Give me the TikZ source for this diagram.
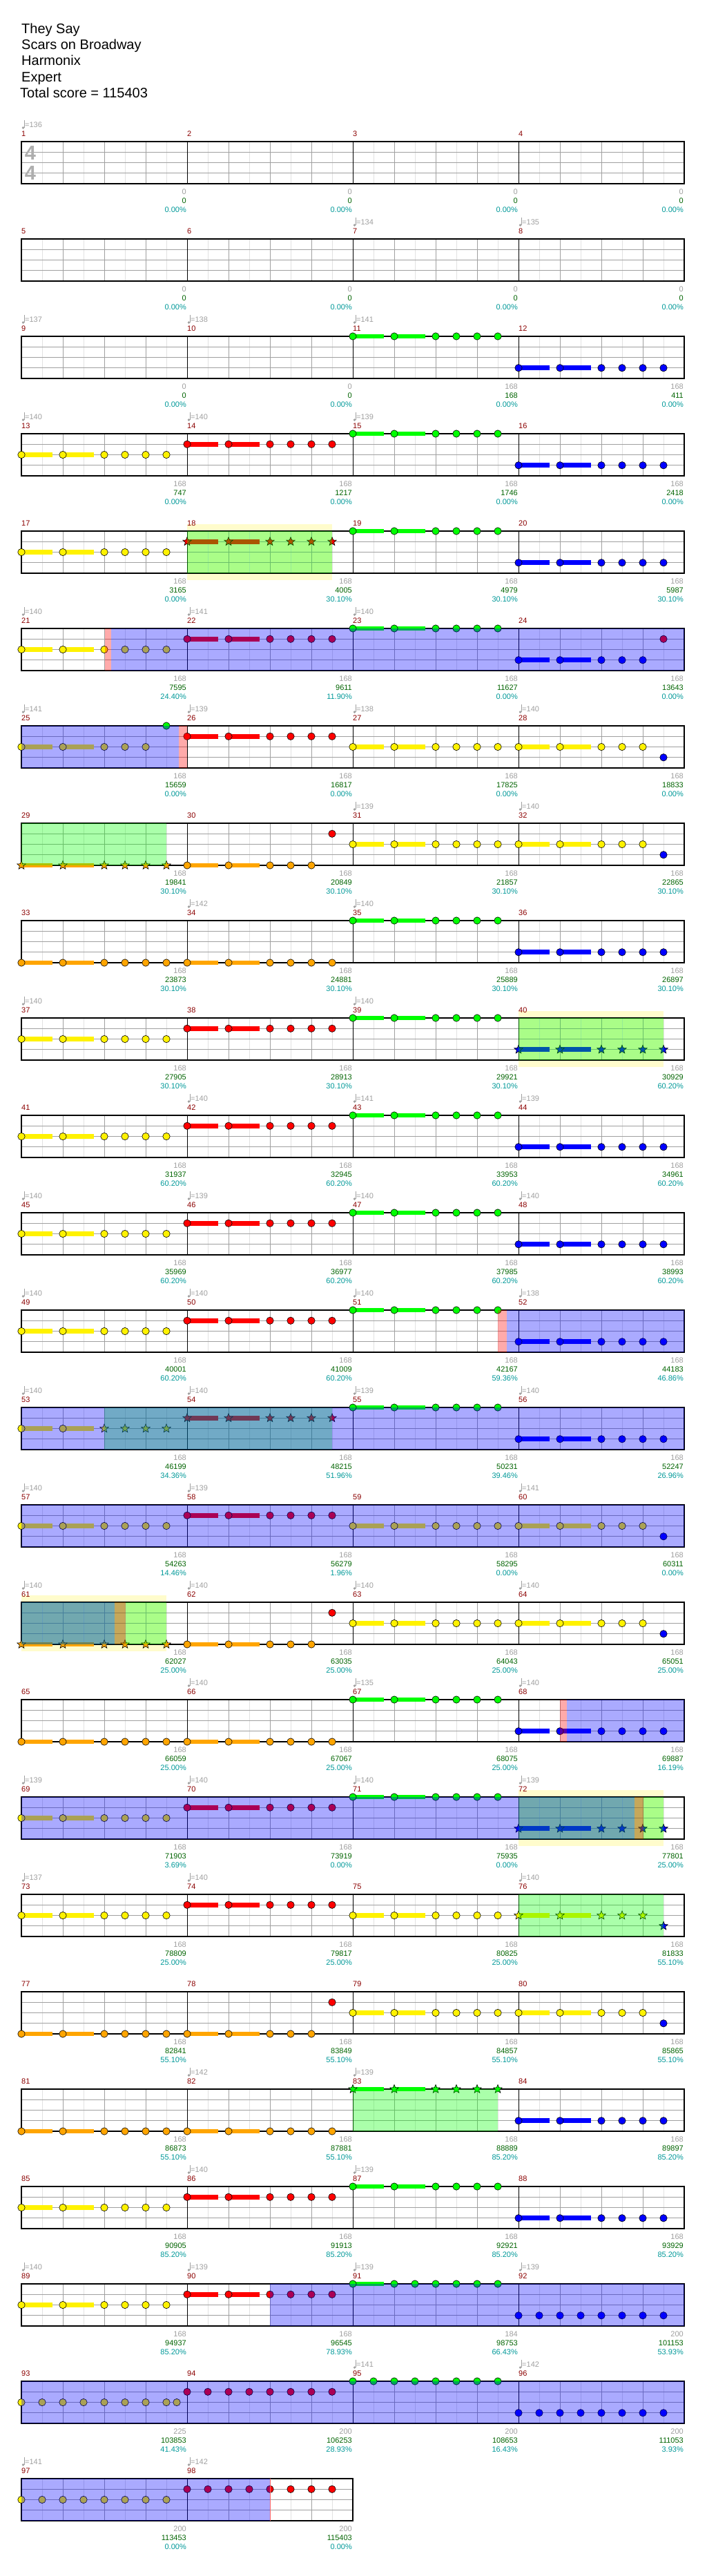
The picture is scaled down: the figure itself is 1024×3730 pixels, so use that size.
\documentclass[tikz,border=0pt]{standalone}
\usepackage{fontspec}
\setmainfont{Liberation Sans}
\usepackage{tikz}
\usetikzlibrary{shapes.geometric}

\definecolor{gemorange}{HTML}{FFA500}
\definecolor{barred}{HTML}{8B0000}
\definecolor{scoregreen}{HTML}{006400}
\definecolor{pctteal}{HTML}{009999}
\definecolor{softgrey}{HTML}{A0A0A0}
\definecolor{hairgrey}{HTML}{E2E2E2}

\tikzset{
  frame/.style={line width=1.6pt, black},
  laneline/.style={line width=1pt, softgrey},
  beatline/.style={line width=0.9pt, softgrey},
  halfline/.style={line width=0.9pt, hairgrey},
  barline/.style={line width=0.9pt, black},
  gem/.style={draw=black, line width=0.6pt},
  stargem/.style={star, star points=5, star point ratio=2.3, minimum size=13pt,
    inner sep=0pt, draw=black, line width=0.6pt},
  lbl/.style={inner sep=0pt, font=\fontsize{11}{11}\selectfont},
  mnum/.style={lbl, text=barred, anchor=west},
  tempotxt/.style={lbl, text=softgrey, anchor=west},
  count/.style={lbl, text=softgrey, anchor=east},
  score/.style={lbl, text=scoregreen, anchor=east},
  pct/.style={lbl, text=pctteal, anchor=east},
  title/.style={inner sep=0pt, anchor=base west, font=\fontsize{20}{23}\selectfont},
  tsig/.style={inner sep=0pt, text=softgrey!85, font=\fontsize{29}{29}\selectfont\bfseries},
  halo/.style={fill=yellow, fill opacity=0.2},
  spband/.style={fill=green, fill opacity=0.333},
  odband/.style={fill=blue, fill opacity=0.333},
  odedge/.style={fill=red, fill opacity=0.333},
}

% where a bar sits: row top and left edge
\newcommand\setm[1]{%
  \pgfmathtruncatemacro\rowI{(#1-1)/4}%
  \pgfmathtruncatemacro\colI{mod(#1-1,4)}%
  \pgfmathsetmacro\mX{31+240*\colI}%
  \pgfmathsetmacro\mT{205+141*\rowI}}

% the five-lane staff of one row
\newcommand\staff[2]{%
  \pgfmathsetmacro\sT{205+141*#1}%
  \pgfmathsetmacro\sR{31+240*#2}%
  \pgfmathtruncatemacro\sN{8*#2-1}%
  \pgfmathtruncatemacro\sB{4*#2-1}%
  \pgfmathtruncatemacro\sM{#2-1}%
  \foreach \k in {1,...,\sN} {\draw[halfline] (31+30*\k,\sT) -- ++(0,61);}
  \foreach \k in {1,...,\sB} {\draw[beatline] (31+60*\k,\sT) -- ++(0,61);}
  \foreach \l in {1,2,3} {\draw[laneline] (31,\sT+15.25*\l) -- (\sR,\sT+15.25*\l);}
  \foreach \k in {1,...,\sM} {\draw[barline] (31+240*\k,\sT) -- ++(0,61);}
  \draw[frame] (31,\sT) rectangle (\sR,\sT+61);}

% bar number, tempo and the three figures under a bar
\newcommand\meas[5]{%
  \setm{#1}%
  \node[mnum] (mn#1) at (\mX,\mT-11) {#1};
  \node[count] (ct#1) at (\mX+239,\mT+73) {#2};
  \node[score] (sc#1) at (\mX+239,\mT+86) {#3};
  \node[pct] (pc#1) at (\mX+239,\mT+99) {#4};
  \if\relax\detokenize{#5}\relax\else
    \fill[softgrey] (\mX+2.5,\mT-20) circle (1.8);
    \draw[softgrey, line width=0.6pt] (\mX+4.2,\mT-20) -- (\mX+4.2,\mT-31);
    \node[tempotxt] (tp#1) at (\mX+5,\mT-24) {=#5};
  \fi}

% notes: bar, lane, eighth, colour
\newcommand\gem[4]{\setm{#1}\draw[gem, fill=#4] (\mX+30*#3,\mT+15.25*#2) circle (5.2);}
\newcommand\sgem[4]{\setm{#1}\node[stargem, fill=#4] (st#1-#3) at (\mX+30*#3,\mT+15.25*#2) {};}
\newcommand\tail[4]{\setm{#1}\fill[#4] (\mX+30*#3,\mT+15.25*#2-3.4) rectangle ++(44.5,6.8);}

\newcommand\riff[3]{\tail{#1}{#2}{0}{#3}\tail{#1}{#2}{2}{#3}%
  \foreach \e in {0,2,4,5,6,7} {\gem{#1}{#2}{\e}{#3}}}
\newcommand\riffx[5]{\tail{#1}{#2}{0}{#3}\tail{#1}{#2}{2}{#3}%
  \foreach \e in {0,2,4,5,6} {\gem{#1}{#2}{\e}{#3}}\gem{#1}{#4}{7}{#5}}
\newcommand\starriff[3]{\tail{#1}{#2}{0}{#3}\tail{#1}{#2}{2}{#3}%
  \foreach \e in {0,2,4,5,6,7} {\sgem{#1}{#2}{\e}{#3}}}
\newcommand\run[3]{\foreach \e in {0,...,7} {\gem{#1}{#2}{\e}{#3}}}

% shaded spans: style, row, from x, to x
\newcommand\band[4]{\pgfmathsetmacro\bT{205+141*#2}\fill[#1] (#3,\bT) rectangle (#4,\bT+61);}
\newcommand\haloband[3]{\pgfmathsetmacro\bT{205+141*#1}\fill[halo] (#2,\bT-10) rectangle (#3,\bT+71);}

\begin{document}
\begin{tikzpicture}[x=1pt, y=-1pt]
  \useasboundingbox[fill=white] (0,0) rectangle (1024,3730);

  \node[title] (song) at (31,48.5) {They Say};
  \node[title] (artist) at (31,71.8) {Scars on Broadway};
  \node[title] (author) at (31,95) {Harmonix};
  \node[title] (level) at (31,118.3) {Expert};
  \node[title] (total) at (29,141.5) {Total score = 115403};

  % row 1
  \staff{0}{4}
  \node[tsig] (tsup) at (44,222) {4};
  \node[tsig] (tsdown) at (44,251) {4};
  \meas{1}{0}{0}{0.00\%}{136}
  \meas{2}{0}{0}{0.00\%}{}
  \meas{3}{0}{0}{0.00\%}{}
  \meas{4}{0}{0}{0.00\%}{}

  % row 2
  \staff{1}{4}
  \meas{5}{0}{0}{0.00\%}{}
  \meas{6}{0}{0}{0.00\%}{}
  \meas{7}{0}{0}{0.00\%}{134}
  \meas{8}{0}{0}{0.00\%}{135}

  % row 3
  \staff{2}{4}
  \riff{11}{0}{green} \riff{12}{3}{blue}
  \meas{9}{0}{0}{0.00\%}{137}
  \meas{10}{0}{0}{0.00\%}{138}
  \meas{11}{168}{168}{0.00\%}{141}
  \meas{12}{168}{411}{0.00\%}{}

  % row 4
  \staff{3}{4}
  \riff{13}{2}{yellow} \riff{14}{1}{red} \riff{15}{0}{green} \riff{16}{3}{blue}
  \meas{13}{168}{747}{0.00\%}{140}
  \meas{14}{168}{1217}{0.00\%}{140}
  \meas{15}{168}{1746}{0.00\%}{139}
  \meas{16}{168}{2418}{0.00\%}{}

  % row 5
  \haloband{4}{271}{481}
  \staff{4}{4}
  \riff{17}{2}{yellow} \starriff{18}{1}{red} \riff{19}{0}{green} \riff{20}{3}{blue}
  \meas{17}{168}{3165}{0.00\%}{}
  \meas{18}{168}{4005}{30.10\%}{}
  \meas{19}{168}{4979}{30.10\%}{}
  \meas{20}{168}{5987}{30.10\%}{}
  \band{spband}{4}{271}{481}

  % row 6
  \staff{5}{4}
  \riff{21}{2}{yellow} \riff{22}{1}{red} \riff{23}{0}{green} \riffx{24}{3}{blue}{1}{red}
  \meas{21}{168}{7595}{24.40\%}{140}
  \meas{22}{168}{9611}{11.90\%}{141}
  \meas{23}{168}{11627}{0.00\%}{140}
  \meas{24}{168}{13643}{0.00\%}{}
  \band{odedge}{5}{151.5}{161.3}
  \band{odband}{5}{161.3}{991}

  % row 7
  \staff{6}{4}
  \riffx{25}{2}{yellow}{0}{green} \riff{26}{1}{red} \riff{27}{2}{yellow} \riffx{28}{2}{yellow}{3}{blue}
  \meas{25}{168}{15659}{0.00\%}{141}
  \meas{26}{168}{16817}{0.00\%}{139}
  \meas{27}{168}{17825}{0.00\%}{138}
  \meas{28}{168}{18833}{0.00\%}{140}
  \band{odband}{6}{31}{259.3}
  \band{odedge}{6}{259.3}{271}

  % row 8
  \staff{7}{4}
  \starriff{29}{4}{gemorange} \riffx{30}{4}{gemorange}{1}{red} \riff{31}{2}{yellow} \riffx{32}{2}{yellow}{3}{blue}
  \meas{29}{168}{19841}{30.10\%}{}
  \meas{30}{168}{20849}{30.10\%}{}
  \meas{31}{168}{21857}{30.10\%}{139}
  \meas{32}{168}{22865}{30.10\%}{140}
  \band{spband}{7}{31}{241}

  % row 9
  \staff{8}{4}
  \riff{33}{4}{gemorange} \riff{34}{4}{gemorange} \riff{35}{0}{green} \riff{36}{3}{blue}
  \meas{33}{168}{23873}{30.10\%}{}
  \meas{34}{168}{24881}{30.10\%}{142}
  \meas{35}{168}{25889}{30.10\%}{140}
  \meas{36}{168}{26897}{30.10\%}{}

  % row 10
  \haloband{9}{751}{961}
  \staff{9}{4}
  \riff{37}{2}{yellow} \riff{38}{1}{red} \riff{39}{0}{green} \starriff{40}{3}{blue}
  \meas{37}{168}{27905}{30.10\%}{140}
  \meas{38}{168}{28913}{30.10\%}{}
  \meas{39}{168}{29921}{30.10\%}{140}
  \meas{40}{168}{30929}{60.20\%}{}
  \band{spband}{9}{751}{961}

  % row 11
  \staff{10}{4}
  \riff{41}{2}{yellow} \riff{42}{1}{red} \riff{43}{0}{green} \riff{44}{3}{blue}
  \meas{41}{168}{31937}{60.20\%}{}
  \meas{42}{168}{32945}{60.20\%}{140}
  \meas{43}{168}{33953}{60.20\%}{141}
  \meas{44}{168}{34961}{60.20\%}{139}

  % row 12
  \staff{11}{4}
  \riff{45}{2}{yellow} \riff{46}{1}{red} \riff{47}{0}{green} \riff{48}{3}{blue}
  \meas{45}{168}{35969}{60.20\%}{140}
  \meas{46}{168}{36977}{60.20\%}{139}
  \meas{47}{168}{37985}{60.20\%}{140}
  \meas{48}{168}{38993}{60.20\%}{140}

  % row 13
  \staff{12}{4}
  \riff{49}{2}{yellow} \riff{50}{1}{red} \riff{51}{0}{green} \riff{52}{3}{blue}
  \meas{49}{168}{40001}{60.20\%}{140}
  \meas{50}{168}{41009}{60.20\%}{140}
  \meas{51}{168}{42167}{59.36\%}{140}
  \meas{52}{168}{44183}{46.86\%}{138}
  \band{odedge}{12}{721}{733.5}
  \band{odband}{12}{733.5}{991}

  % row 14
  \staff{13}{4}
  \tail{53}{2}{0}{yellow}\tail{53}{2}{2}{yellow}
  \gem{53}{2}{0}{yellow}\gem{53}{2}{2}{yellow}
  \foreach \e in {4,5,6,7} {\sgem{53}{2}{\e}{yellow}}
  \starriff{54}{1}{red} \riff{55}{0}{green} \riff{56}{3}{blue}
  \meas{53}{168}{46199}{34.36\%}{140}
  \meas{54}{168}{48215}{51.96\%}{140}
  \meas{55}{168}{50231}{39.46\%}{139}
  \meas{56}{168}{52247}{26.96\%}{140}
  \band{spband}{13}{151}{481}
  \band{odband}{13}{31}{991}

  % row 15
  \staff{14}{4}
  \riff{57}{2}{yellow} \riff{58}{1}{red} \riff{59}{2}{yellow} \riffx{60}{2}{yellow}{3}{blue}
  \meas{57}{168}{54263}{14.46\%}{140}
  \meas{58}{168}{56279}{1.96\%}{139}
  \meas{59}{168}{58295}{0.00\%}{}
  \meas{60}{168}{60311}{0.00\%}{141}
  \band{odband}{14}{31}{991}

  % row 16
  \haloband{15}{31}{241}
  \staff{15}{4}
  \starriff{61}{4}{gemorange} \riffx{62}{4}{gemorange}{1}{red} \riff{63}{2}{yellow} \riffx{64}{2}{yellow}{3}{blue}
  \meas{61}{168}{62027}{25.00\%}{140}
  \meas{62}{168}{63035}{25.00\%}{140}
  \meas{63}{168}{64043}{25.00\%}{140}
  \meas{64}{168}{65051}{25.00\%}{140}
  \band{spband}{15}{31}{241}
  \band{odband}{15}{31}{166}
  \band{odedge}{15}{166}{181.5}

  % row 17
  \staff{16}{4}
  \riff{65}{4}{gemorange} \riff{66}{4}{gemorange} \riff{67}{0}{green} \riff{68}{3}{blue}
  \meas{65}{168}{66059}{25.00\%}{}
  \meas{66}{168}{67067}{25.00\%}{140}
  \meas{67}{168}{68075}{25.00\%}{135}
  \meas{68}{168}{69887}{16.19\%}{140}
  \band{odedge}{16}{811}{821}
  \band{odband}{16}{821}{991}

  % row 18
  \haloband{17}{751}{961}
  \staff{17}{4}
  \riff{69}{2}{yellow} \riff{70}{1}{red} \riff{71}{0}{green} \starriff{72}{3}{blue}
  \meas{69}{168}{71903}{3.69\%}{139}
  \meas{70}{168}{73919}{0.00\%}{140}
  \meas{71}{168}{75935}{0.00\%}{140}
  \meas{72}{168}{77801}{25.00\%}{139}
  \band{spband}{17}{751}{961}
  \band{odband}{17}{31}{919}
  \band{odedge}{17}{919}{931.5}

  % row 19
  \staff{18}{4}
  \riff{73}{2}{yellow} \riff{74}{1}{red} \riff{75}{2}{yellow}
  \tail{76}{2}{0}{yellow}\tail{76}{2}{2}{yellow}
  \foreach \e in {0,2,4,5,6} {\sgem{76}{2}{\e}{yellow}}
  \sgem{76}{3}{7}{blue}
  \meas{73}{168}{78809}{25.00\%}{137}
  \meas{74}{168}{79817}{25.00\%}{140}
  \meas{75}{168}{80825}{25.00\%}{}
  \meas{76}{168}{81833}{55.10\%}{140}
  \band{spband}{18}{751}{961}

  % row 20
  \staff{19}{4}
  \riff{77}{4}{gemorange} \riffx{78}{4}{gemorange}{1}{red} \riff{79}{2}{yellow} \riffx{80}{2}{yellow}{3}{blue}
  \meas{77}{168}{82841}{55.10\%}{}
  \meas{78}{168}{83849}{55.10\%}{}
  \meas{79}{168}{84857}{55.10\%}{}
  \meas{80}{168}{85865}{55.10\%}{}

  % row 21
  \staff{20}{4}
  \riff{81}{4}{gemorange} \riff{82}{4}{gemorange} \starriff{83}{0}{green} \riff{84}{3}{blue}
  \meas{81}{168}{86873}{55.10\%}{}
  \meas{82}{168}{87881}{55.10\%}{142}
  \meas{83}{168}{88889}{85.20\%}{139}
  \meas{84}{168}{89897}{85.20\%}{}
  \band{spband}{20}{511}{721}

  % row 22
  \staff{21}{4}
  \riff{85}{2}{yellow} \riff{86}{1}{red} \riff{87}{0}{green} \riff{88}{3}{blue}
  \meas{85}{168}{90905}{85.20\%}{}
  \meas{86}{168}{91913}{85.20\%}{140}
  \meas{87}{168}{92921}{85.20\%}{139}
  \meas{88}{168}{93929}{85.20\%}{}

  % row 23
  \staff{22}{4}
  \riff{89}{2}{yellow} \riff{90}{1}{red}
  \tail{91}{0}{0}{green}
  \foreach \e in {0,2,3,4,5,6,7} {\gem{91}{0}{\e}{green}}
  \run{92}{3}{blue}
  \meas{89}{168}{94937}{85.20\%}{140}
  \meas{90}{168}{96545}{78.93\%}{139}
  \meas{91}{184}{98753}{66.43\%}{139}
  \meas{92}{200}{101153}{53.93\%}{139}
  \band{odband}{22}{391}{991}

  % row 24
  \staff{23}{4}
  \run{93}{2}{yellow} \gem{93}{2}{7.5}{yellow}
  \run{94}{1}{red} \run{95}{0}{green} \run{96}{3}{blue}
  \meas{93}{225}{103853}{41.43\%}{}
  \meas{94}{200}{106253}{28.93\%}{}
  \meas{95}{200}{108653}{16.43\%}{141}
  \meas{96}{200}{111053}{3.93\%}{142}
  \band{odband}{23}{31}{991}

  % row 25
  \staff{24}{2}
  \run{97}{2}{yellow} \run{98}{1}{red}
  \meas{97}{200}{113453}{0.00\%}{141}
  \meas{98}{200}{115403}{0.00\%}{142}
  \band{odband}{24}{31}{391}
  \draw[red!60, line width=0.6pt] (391,3589) -- (391,3650);
\end{tikzpicture}
\end{document}
